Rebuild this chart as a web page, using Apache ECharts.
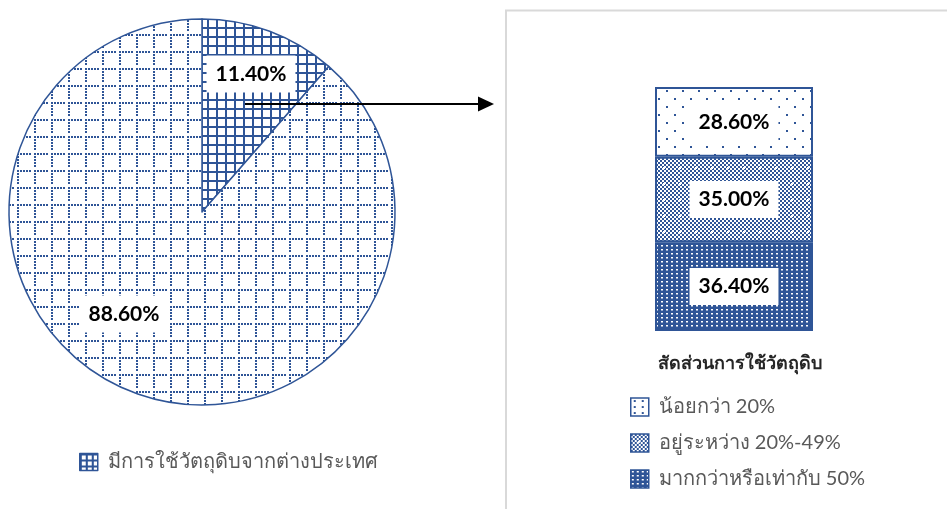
<!DOCTYPE html>
<html>
<head>
<meta charset="utf-8">
<script src="https://cdn.jsdelivr.net/npm/echarts@6/dist/echarts.min.js"></script>
<style>
html,body{margin:0;padding:0;background:#fff;}
#chart{width:947px;height:509px;}
</style>
</head>
<body>
<div id="chart"></div>
<script>
// ---- data ----
const pieNames = ['มีการใช้วัตถุดิบจากต่างประเทศ', 'ไม่มีการใช้วัตถุดิบจากต่างประเทศ'];
const pieValues = [11.4, 88.6];
const barTitle = 'สัดส่วนการใช้วัตถุดิบ';
const barNames = ['น้อยกว่า 20%', 'อยู่ระหว่าง 20%-49%', 'มากกว่าหรือเท่ากับ 50%'];
const barValues = [28.6, 35.0, 36.4];
const barCategory = ['สัดส่วน'];

// ---- patterns ----
const BLUE = '#2F5597';
function mk(w, h, fn) {
  const c = document.createElement('canvas');
  c.width = w; c.height = h;
  const g = c.getContext('2d');
  g.fillStyle = '#fff'; g.fillRect(0, 0, w, h);
  fn(g, w, h);
  return c;
}
const patGrid = mk(9, 9, (g) => { g.fillStyle = BLUE; g.fillRect(0, 0, 9, 2); g.fillRect(0, 0, 2, 9); });
const patDotGrid = mk(17, 17, (g) => {
  g.fillStyle = BLUE;
  for (let i = 0; i < 15; i += 3) { g.fillRect(i, 0, 2, 2); g.fillRect(0, i, 2, 2); }
});
const patSparse = mk(16, 16, (g) => { g.fillStyle = BLUE; g.fillRect(2, 2, 2, 2); g.fillRect(10, 10, 2, 2); });
const patChecker = mk(16, 16, (g) => {
  g.fillStyle = BLUE;
  for (let y = 0; y < 16; y += 2) for (let x = 0; x < 16; x += 2) if (((x + y) / 2) % 2 === 0) g.fillRect(x, y, 2, 2);
  g.fillStyle = '#fff'; g.fillRect(7, 7, 2, 2);
});
const patDense = mk(5, 4, (g) => { g.fillStyle = BLUE; g.fillRect(0, 0, 5, 4); g.fillStyle = '#fff'; g.fillRect(1, 1, 2, 1.5); });
const patGridIcon = mk(6, 6, (g) => { g.fillStyle = BLUE; g.fillRect(0, 0, 6, 2); g.fillRect(0, 0, 2, 6); });
const patSparseIcon = mk(8, 6, (g) => { g.fillStyle = BLUE; g.fillRect(3, 2, 2, 2); });

const pat = (c) => ({ image: c, repeat: 'repeat' });
const barPats = [pat(patSparse), pat(patChecker), pat(patDense)];
const barIconPats = [pat(patSparseIcon), pat(patChecker), pat(patDense)];

const FONT = "Lato, 'Noto Sans', sans-serif";
const chart = echarts.init(document.getElementById('chart'), null, { renderer: 'canvas' });

const labelBox = {
  show: true,
  formatter: (p) => p.value.toFixed(2) + '%',
  backgroundColor: '#fff',
  padding: [9, 9, 7, 9],
  fontSize: 21,
  fontWeight: 'bold',
  color: '#000',
  fontFamily: FONT
};

const pieLabelPos = [[251, 74], [124, 314]];

// stacked bars: bottom first
const barSeries = [2, 1, 0].map((i) => ({
  name: barNames[i],
  type: 'bar',
  stack: 'total',
  barWidth: '100%',
  data: [barValues[i]],
  itemStyle: { color: barPats[i], borderColor: BLUE, borderWidth: 2 },
  label: Object.assign({}, labelBox, { position: 'inside' }),
  emphasis: { disabled: true }
}));

chart.setOption({
  animation: false,
  backgroundColor: '#fff',
  title: {
    text: barTitle,
    left: 658, top: 354, padding: 0,
    textStyle: { fontSize: 18, fontWeight: 'bold', color: '#262626', fontFamily: FONT }
  },
  legend: [
    {
      data: [{ name: pieNames[0], itemStyle: { color: pat(patGridIcon), borderColor: BLUE, borderWidth: 1.5 } }],
      left: 79, top: 452, padding: 0,
      itemWidth: 18, itemHeight: 17, itemGap: 10,
      icon: 'rect',
      selectedMode: false,
      textStyle: { fontSize: 20, color: '#595959', fontFamily: FONT, padding: [0, 0, 0, 5] }
    },
    {
      data: barNames.map((n, i) => ({ name: n, itemStyle: { color: barIconPats[i], borderColor: BLUE, borderWidth: 1.5 } })),
      orient: 'vertical',
      left: 630, top: 397, padding: 0,
      itemWidth: 18, itemHeight: 18, itemGap: 16,
      icon: 'rect',
      selectedMode: false,
      textStyle: { fontSize: 20, color: '#595959', fontFamily: FONT, padding: [0, 0, 0, 5] }
    }
  ],
  grid: { left: 655, top: 87, width: 158, height: 244, containLabel: false },
  xAxis: { type: 'category', data: barCategory, show: false },
  yAxis: { type: 'value', min: 0, max: 100, show: false },
  series: [
    {
      type: 'pie',
      center: [202, 212],
      radius: 193,
      startAngle: 90,
      clockwise: true,
      data: pieValues.map((v, i) => ({
        name: pieNames[i], value: v,
        itemStyle: { color: i === 0 ? pat(patGrid) : pat(patDotGrid) }
      })),
      itemStyle: { borderColor: BLUE, borderWidth: 1.5 },
      label: Object.assign({}, labelBox, { position: 'inside' }),
      labelLine: { show: false },
      labelLayout: (p) => ({ x: pieLabelPos[p.dataIndex][0], y: pieLabelPos[p.dataIndex][1], align: 'center', verticalAlign: 'middle' }),
      emphasis: { disabled: true },
      silent: true
    }
  ].concat(barSeries),
  graphic: [
    { type: 'polyline', shape: { points: [[506, 509], [506, 10.5], [947, 10.5]] }, style: { stroke: '#D9D9D9', lineWidth: 2, fill: null }, silent: true },
    { type: 'line', shape: { x1: 245, y1: 104, x2: 482, y2: 104 }, style: { stroke: '#000', lineWidth: 2 }, silent: true, z: 100 },
    { type: 'polygon', shape: { points: [[478, 96.5], [494, 104], [478, 111.5]] }, style: { fill: '#000' }, silent: true, z: 100 }
  ]
});
</script>
</body>
</html>
